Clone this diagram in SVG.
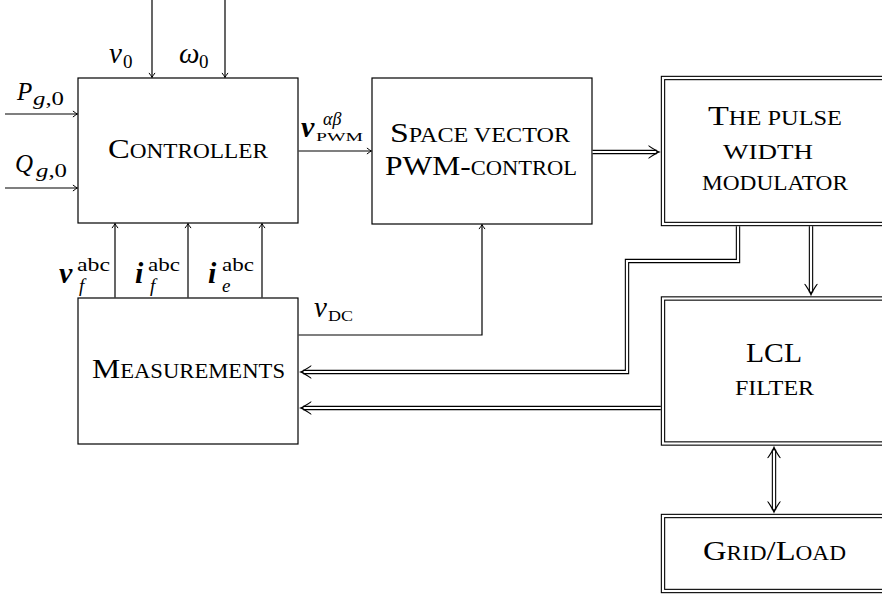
<svg xmlns="http://www.w3.org/2000/svg" xmlns:xlink="http://www.w3.org/1999/xlink" width="882" height="594" viewBox="0 0 882 594">
<style>
.box{fill:#fff;stroke:#000;stroke-width:1.2}
.dbo{fill:none;stroke:#000;stroke-width:4.4;stroke-linejoin:miter}
.dbi{fill:none;stroke:#fff;stroke-width:2.2;stroke-linejoin:miter}
.dbf{fill:#fff;stroke:none}
.ln{fill:none;stroke:#000;stroke-width:1.2}
.ar{marker-end:url(#ah)}
.t{font-family:"Liberation Serif","DejaVu Serif",serif;fill:#000}
.big{font-size:28px}
.sc{font-size:20px}
.mi{font-style:italic}
.bi{font-style:italic;font-weight:bold}
.sub{font-size:19px}
</style>
<defs>
<marker id="ah" viewBox="-6 -4 7 8" refX="0" refY="0" markerWidth="7" markerHeight="8" markerUnits="userSpaceOnUse" orient="auto">
<path d="M-4.5,-3 Q-1.5,-0.8 0,0 Q-1.5,0.8 -4.5,3" fill="none" stroke="#000" stroke-width="1"/>
</marker>
<path id="bh" d="M0,0 C-3,-1 -8,-4 -12.5,-7 L-12,-5.4 C-8.5,-3 -5.5,-1.3 -4,0 C-5.5,1.3 -8.5,3 -12,5.4 L-12.5,7 C-8,4 -3,1 0,0 Z" fill="#000"/>
</defs>

<g id="controller">
<rect class="box" x="78" y="78" width="220" height="145"/>
<text class="t" x="108" y="158" textLength="160" lengthAdjust="spacingAndGlyphs"><tspan class="big">C</tspan><tspan class="sc">ONTROLLER</tspan></text>
</g>

<g id="space-vector">
<rect class="box" x="372" y="78" width="220" height="146"/>
<text class="t" x="390" y="141.5" textLength="180" lengthAdjust="spacingAndGlyphs"><tspan class="big">S</tspan><tspan class="sc">PACE VECTOR</tspan></text>
<text class="t" x="385" y="175" textLength="192" lengthAdjust="spacingAndGlyphs"><tspan class="big">PWM-</tspan><tspan class="sc">CONTROL</tspan></text>
</g>

<g id="pulse-width-modulator">
<rect class="dbf" x="663" y="78" width="224" height="146"/>
<rect class="dbo" x="663" y="78" width="224" height="146"/>
<rect class="dbi" x="663" y="78" width="224" height="146"/>
<text class="t" x="708" y="125" textLength="134" lengthAdjust="spacingAndGlyphs"><tspan class="big">T</tspan><tspan class="sc">HE PULSE</tspan></text>
<text class="t sc" x="723" y="159" textLength="90" lengthAdjust="spacingAndGlyphs">WIDTH</text>
<text class="t sc" x="702" y="190" textLength="146" lengthAdjust="spacingAndGlyphs">MODULATOR</text>
</g>

<g id="measurements">
<rect class="box" x="78" y="298" width="220" height="146"/>
<text class="t" x="92" y="378" textLength="193" lengthAdjust="spacingAndGlyphs"><tspan class="big">M</tspan><tspan class="sc">EASUREMENTS</tspan></text>
</g>

<g id="lcl-filter">
<rect class="dbf" x="663" y="298.5" width="224" height="145"/>
<rect class="dbo" x="663" y="298.5" width="224" height="145"/>
<rect class="dbi" x="663" y="298.5" width="224" height="145"/>
<text class="t big" x="746" y="362" textLength="56" lengthAdjust="spacingAndGlyphs">LCL</text>
<text class="t sc" x="735" y="395" textLength="79" lengthAdjust="spacingAndGlyphs">FILTER</text>
</g>

<g id="grid-load">
<rect class="dbf" x="663" y="516" width="224" height="75"/>
<rect class="dbo" x="663" y="516" width="224" height="75"/>
<rect class="dbi" x="663" y="516" width="224" height="75"/>
<text class="t" x="703" y="560" textLength="143" lengthAdjust="spacingAndGlyphs"><tspan class="big">G</tspan><tspan class="sc">RID</tspan><tspan class="big">/L</tspan><tspan class="sc">OAD</tspan></text>
</g>

<g id="connectors">
<path class="ln ar" d="M152,0 V77.4"/>
<path class="ln ar" d="M225,0 V77.4"/>
<path class="ln ar" d="M5,114 H77.4"/>
<path class="ln ar" d="M5,188 H77.4"/>
<path class="ln ar" d="M298.6,151 H371.4"/>
<path class="ln ar" d="M115,297.4 V223.6"/>
<path class="ln ar" d="M188,297.4 V223.6"/>
<path class="ln ar" d="M262,297.4 V223.6"/>
<path class="ln ar" d="M298.6,335 H482 V224.6"/>
<path class="dbo" d="M592.6,152 H656.8"/>
<path class="dbi" d="M592.6,152 H656.8"/>
<use xlink:href="#bh" transform="translate(660.8,152)"/>
<path class="dbo" d="M811,226.2 V292.3"/>
<path class="dbi" d="M811,226.2 V292.3"/>
<use xlink:href="#bh" transform="translate(811,296.3) rotate(90)"/>
<path class="dbo" d="M738,226.2 V261 H627 V372 H303"/>
<path class="dbi" d="M738,226.2 V261 H627 V372 H303"/>
<use xlink:href="#bh" transform="translate(299,372) rotate(180)"/>
<path class="dbo" d="M660.8,408 H303"/>
<path class="dbi" d="M660.8,408 H303"/>
<use xlink:href="#bh" transform="translate(299,408) rotate(180)"/>
<path class="dbo" d="M774,449.7 V509.8"/>
<path class="dbi" d="M774,449.7 V509.8"/>
<use xlink:href="#bh" transform="translate(774,445.7) rotate(-90)"/>
<use xlink:href="#bh" transform="translate(774,513.8) rotate(90)"/>
</g>

<g id="labels">
<text class="t mi" font-size="29" x="109" y="63">v</text><text class="t sub" x="123" y="68">0</text>
<text class="t mi" font-size="29" x="179" y="63">ω</text><text class="t sub" x="199" y="68">0</text>
<text class="t mi" font-size="25" x="17" y="100">P</text><text class="t sub" x="33" y="105" textLength="31" lengthAdjust="spacingAndGlyphs"><tspan class="mi">g</tspan>,0</text>
<text class="t mi" font-size="25" x="15" y="172">Q</text><text class="t sub" x="36" y="177" textLength="31" lengthAdjust="spacingAndGlyphs"><tspan class="mi">g</tspan>,0</text>
<text class="t bi" font-size="30" x="301" y="137">v</text>
<text class="t mi" font-size="18" x="323" y="125">αβ</text>
<text class="t" font-size="13" x="316" y="141" textLength="47" lengthAdjust="spacingAndGlyphs">PWM</text>
<text class="t bi" font-size="30" x="59" y="283">v</text>
<text class="t" font-size="19" x="77" y="271" textLength="33" lengthAdjust="spacingAndGlyphs">abc</text>
<text class="t sub mi" x="79" y="292">f</text>
<text class="t bi" font-size="30" x="135" y="283">i</text>
<text class="t" font-size="19" x="148" y="271" textLength="32" lengthAdjust="spacingAndGlyphs">abc</text>
<text class="t sub mi" x="150" y="292">f</text>
<text class="t bi" font-size="30" x="208" y="283">i</text>
<text class="t" font-size="19" x="222" y="271" textLength="32" lengthAdjust="spacingAndGlyphs">abc</text>
<text class="t sub mi" x="222" y="292">e</text>
<text class="t mi" font-size="29" x="314" y="317">v</text>
<text class="t" font-size="15" x="328" y="321" textLength="25" lengthAdjust="spacingAndGlyphs">DC</text>
</g>
</svg>
